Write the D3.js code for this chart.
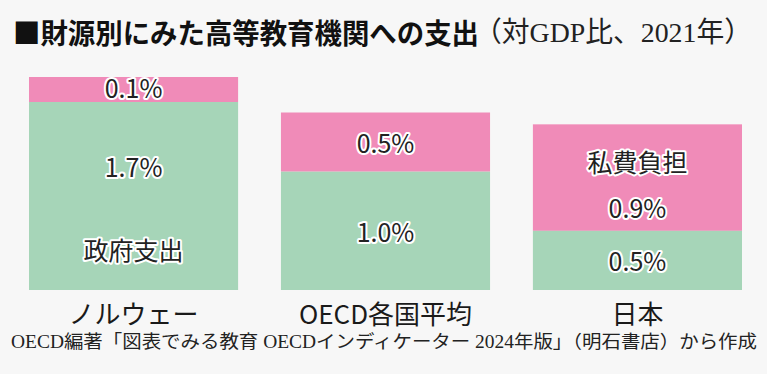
<!DOCTYPE html>
<html lang="ja">
<head>
<meta charset="utf-8">
<script src="https://cdn.jsdelivr.net/npm/d3@7"></script>
<style>
  html, body { margin: 0; padding: 0; background: #f7f7f7; }
  svg { display: block; }
</style>
</head>
<body>
<svg id="chart" width="767" height="374"></svg>
<script>
// ---- data ----
const categories = ["ノルウェー", "OECD各国平均", "日本"];
const governmentValues = [1.7, 1.0, 0.5];   // 政府支出 (% of GDP)
const privateValues = [0.1, 0.5, 0.9];      // 私費負担 (% of GDP)
const seriesNames = ["政府支出", "私費負担"];
const seriesKeys = ["gov", "priv"];
// which band carries the series name inside it
const nameLabelCategories = { gov: "ノルウェー", priv: "日本" };
const titleMain = "■財源別にみた高等教育機関への支出";
const titleSub = "（対GDP比、2021年）";
const sourceText = "OECD編著「図表でみる教育 OECDインディケーター 2024年版」（明石書店）から作成";

// ---- layout ----
const W = 767, H = 374;
const baseY = 290, topY = 77;
const minBand = 25;
const sansJP = "'Noto Sans CJK JP', 'Noto Sans', sans-serif";
const serifJP = "'Liberation Serif', 'DejaVu Serif', 'Noto Sans CJK JP', serif";
const colors = { gov: "#a6d5b8", priv: "#f08bb8" };

const svg = d3.select("#chart");
svg.append("rect").attr("width", W).attr("height", H).attr("fill", "#f7f7f7");

const rows = categories.map((c, i) => ({ category: c, gov: governmentValues[i], priv: privateValues[i] }));
const stacked = d3.stack().keys(seriesKeys)(rows);

const x = d3.scaleBand().domain(categories).range([29, 742]).paddingInner(0.17).paddingOuter(0);
const maxTotal = d3.max(rows, d => d.gov + d.priv);
const y = d3.scaleLinear().domain([0, maxTotal]).range([baseY, topY]);

// compute band geometry (private band kept tall enough to hold its label)
const bands = [];
rows.forEach((r, i) => {
  const top = y(stacked[1][i][1]);
  const split = Math.max(y(stacked[0][i][1]), top + minBand);
  const bottom = y(stacked[0][i][0]);
  bands.push({ key: "priv", cat: r.category, v: r.priv, y0: top, y1: split });
  bands.push({ key: "gov", cat: r.category, v: r.gov, y0: split, y1: bottom });
});

svg.append("g").selectAll("rect").data(bands).join("rect")
  .attr("x", d => x(d.cat))
  .attr("width", x.bandwidth())
  .attr("y", d => d.y0)
  .attr("height", d => d.y1 - d.y0)
  .attr("fill", d => colors[d.key]);

// labels
const labels = [];
bands.forEach(b => {
  const h = b.y1 - b.y0;
  const cx = x(b.cat) + x.bandwidth() / 2;
  const valTxt = d3.format(".1f")(b.v) + "%";
  if (nameLabelCategories[b.key] === b.cat) {
    const name = seriesNames[seriesKeys.indexOf(b.key)];
    const upper = b.y0 + 0.34 * h, lower = b.y0 + 0.78 * h;
    if (b.key === "gov") {
      labels.push({ x: cx, y: upper, t: valTxt });
      labels.push({ x: cx, y: lower, t: name });
    } else {
      labels.push({ x: cx, y: upper, t: name });
      labels.push({ x: cx, y: lower, t: valTxt });
    }
  } else {
    labels.push({ x: cx, y: (b.y0 + b.y1) / 2 - (h < 30 ? 3 : 0), t: valTxt });
  }
});

svg.append("g").selectAll("text").data(labels).join("text")
  .attr("x", d => d.x).attr("y", d => d.y)
  .attr("text-anchor", "middle")
  .attr("dominant-baseline", "central")
  .attr("font-family", sansJP)
  .attr("font-size", 25)
  .attr("fill", "#222")
  .attr("stroke", "#ffffff")
  .attr("stroke-width", 4)
  .attr("stroke-linejoin", "round")
  .attr("paint-order", "stroke")
  .text(d => d.t);

// category axis labels
const xAxis = d3.axisBottom(x).tickSize(0).tickPadding(0);
const gx = svg.append("g").attr("transform", `translate(0,${baseY})`).call(xAxis);
gx.select(".domain").remove();
gx.selectAll("text")
  .attr("y", 22)
  .attr("dy", null)
  .attr("dominant-baseline", "central")
  .attr("font-family", sansJP)
  .attr("font-size", 26)
  .attr("fill", "#1a1a1a");

// title
svg.append("text")
  .attr("x", 13).attr("y", 32)
  .attr("dominant-baseline", "central")
  .attr("font-family", sansJP)
  .attr("font-weight", 700)
  .attr("font-size", 28)
  .attr("fill", "#111")
  .attr("textLength", 466)
  .attr("lengthAdjust", "spacingAndGlyphs")
  .text(titleMain);
svg.append("text")
  .attr("x", 474).attr("y", 32)
  .attr("dominant-baseline", "central")
  .attr("font-family", serifJP)
  .attr("font-size", 28)
  .attr("fill", "#222")
  .attr("textLength", 278)
  .attr("lengthAdjust", "spacingAndGlyphs")
  .text(titleSub);

// source
svg.append("text")
  .attr("x", 11).attr("y", 342)
  .attr("dominant-baseline", "central")
  .attr("font-family", serifJP)
  .attr("font-size", 18)
  .attr("fill", "#222")
  .attr("textLength", 746)
  .attr("lengthAdjust", "spacingAndGlyphs")
  .text(sourceText);
</script>
</body>
</html>
